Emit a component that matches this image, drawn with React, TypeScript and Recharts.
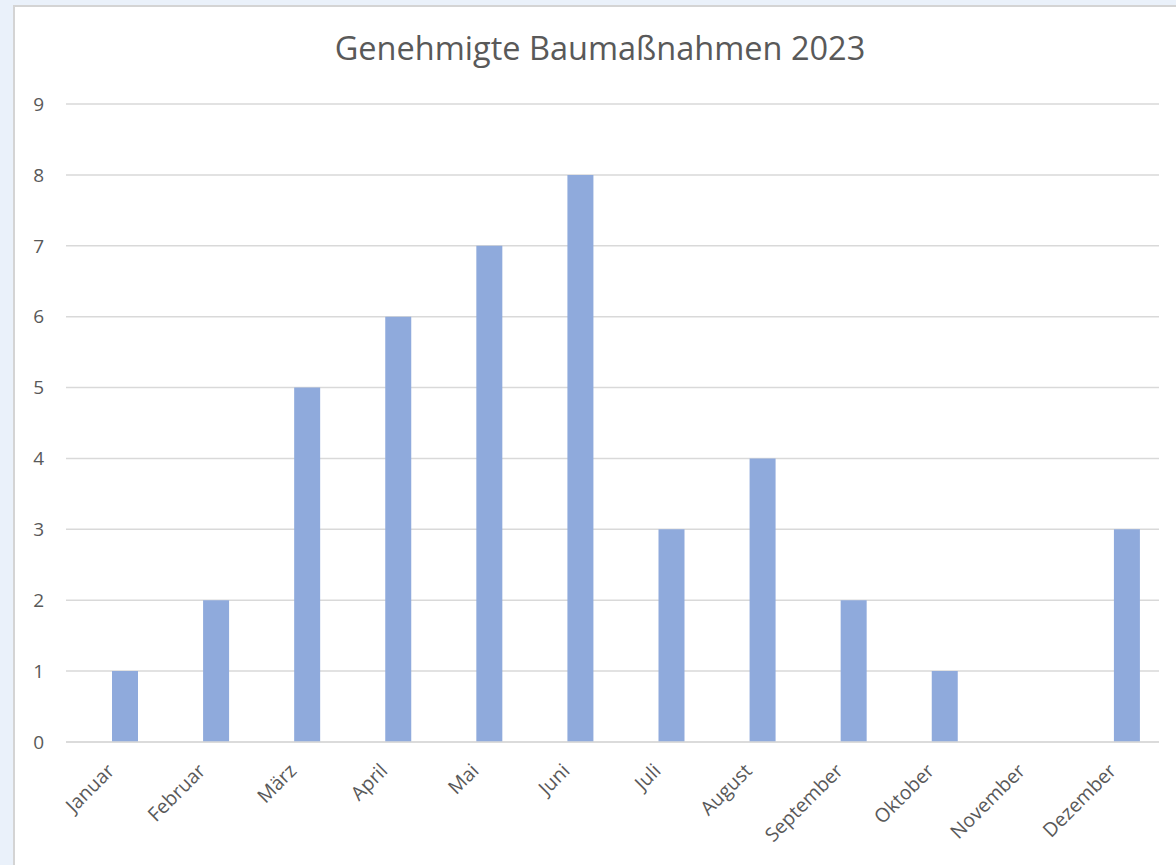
import { BarChart, Bar, XAxis, YAxis, CartesianGrid, Rectangle } from 'recharts';

const months = ['Januar', 'Februar', 'März', 'April', 'Mai', 'Juni', 'Juli', 'August', 'September', 'Oktober', 'November', 'Dezember'];
const approvals = [1, 2, 5, 6, 7, 8, 3, 4, 2, 1, 0, 3];
const yTicks = [0, 1, 2, 3, 4, 5, 6, 7, 8, 9];

const data = months.map((m, i) => ({ month: m, value: approvals[i] }));

const FONT = '"Open Sans", "Noto Sans", sans-serif';
const TEXT = '#595959';
// Excel puts the bar slightly right of the category centre
const BAR_SHIFT = 13;

/* rotated month label, anchored at its end */
function MonthTick({ x, y, payload }: any) {
  const tx = x + 4;
  const ty = y + 22;
  return (
    <text
      x={tx}
      y={ty}
      textAnchor="end"
      fill={TEXT}
      fontSize={19.5}
      fontFamily={FONT}
      transform={`rotate(-45, ${tx}, ${ty})`}
    >
      {payload.value}
    </text>
  );
}

export default function App() {
  return (
    <div style={{ position: 'fixed', left: 0, top: 0, width: 1176, height: 865, background: '#EAF1FA', overflow: 'hidden' }}>
      <div
        style={{
          position: 'absolute', left: 13, top: 5, width: 1200, height: 900,
          background: '#FFFFFF', border: '2px solid #D4D4D4', boxSizing: 'border-box',
        }}
      />
      <div
        style={{
          position: 'absolute', left: 0, top: 25, width: 1200, textAlign: 'center',
          fontFamily: FONT, fontSize: 32.5, color: TEXT,
        }}
      >
        Genehmigte Baumaßnahmen 2023
      </div>
      <div style={{ position: 'absolute', left: 0, top: 0 }}>
        <BarChart width={1176} height={865} data={data} margin={{ top: 104, right: 17, left: 0, bottom: 23 }}>
          <CartesianGrid vertical={false} stroke="#D9D9D9" strokeWidth={1.5} />
          <XAxis
            dataKey="month"
            interval={0}
            height={100}
            tickLine={false}
            axisLine={{ stroke: '#D9D9D9', strokeWidth: 1.5 }}
            tick={<MonthTick />}
          />
          <YAxis
            width={66}
            domain={[0, 9]}
            ticks={yTicks}
            tickLine={false}
            axisLine={false}
            tickMargin={16}
            tick={{ fill: TEXT, fontSize: 19, fontFamily: FONT }}
          />
          <Bar
            dataKey="value"
            fill="#8FAADC"
            barSize={26}
            isAnimationActive={false}
            shape={(p: any) => <Rectangle {...p} x={p.x + BAR_SHIFT} />}
          />
        </BarChart>
      </div>
    </div>
  );
}
